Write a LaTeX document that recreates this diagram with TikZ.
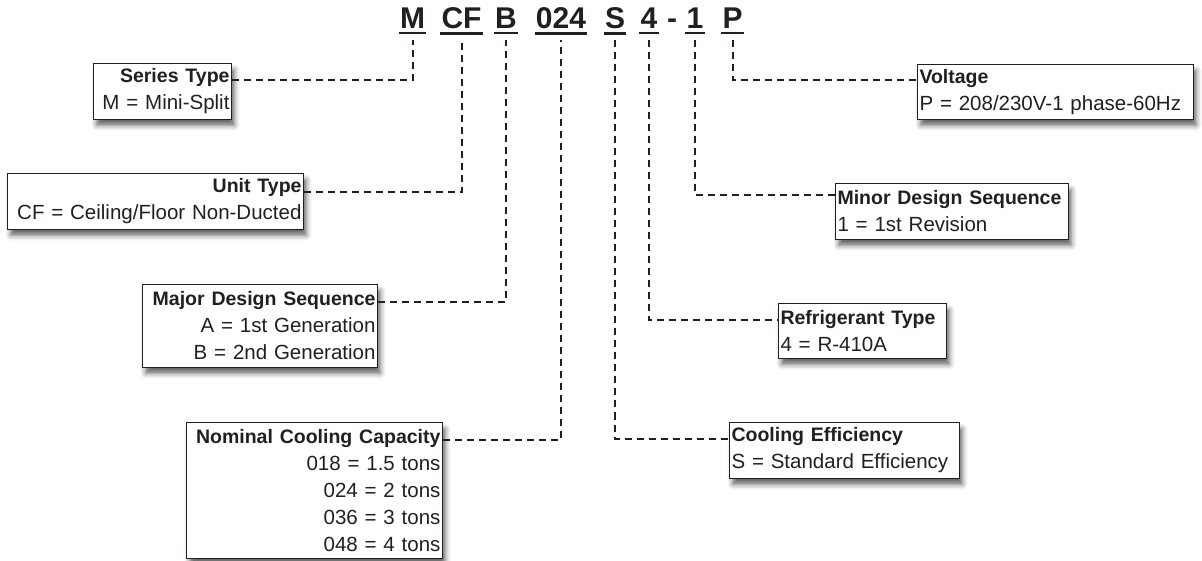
\documentclass[tikz,border=0pt]{standalone}
\usepackage{fontspec}
\setmainfont{Liberation Sans}
\usetikzlibrary{shadows.blur}
\definecolor{inkgray}{RGB}{35,31,32}

\tikzset{
	codechar/.style={font=\fontsize{30}{30}\selectfont\bfseries, text=inkgray, inner xsep=1pt, inner ysep=0pt, anchor=base},
	uline/.style={line width=2.5pt, inkgray},
	codeline/.style={line width=2pt, inkgray, dash pattern=on 7pt off 5pt},
	infobox/.style={draw=inkgray, line width=1pt, fill=white, text=inkgray, anchor=north west,
		inner xsep=2pt, inner ysep=2pt, font=\fontsize{20.5}{27}\selectfont,
		blur shadow={shadow xshift=3pt, shadow yshift=-6pt, shadow blur radius=5pt, shadow opacity=60}},
	leftbox/.style={infobox, align=right},
	rightbox/.style={infobox, align=left}
}
\newcommand{\boxhead}[1]{{\fontsize{19.5}{27}\selectfont\bfseries #1}}

\begin{document}
\begin{tikzpicture}[x=1pt, y=-1pt]
	\useasboundingbox (0,0) rectangle (1202,560);
	% model number
	\node[codechar] (cM) at (412.5,28) {M};
	\node[codechar] (cCF) at (461.5,28) {CF};
	\node[codechar] (cB) at (506,28) {B};
	\node[codechar] (cCap) at (561,28) {024};
	\node[codechar] (cS) at (615,28) {S};
	\node[codechar] (cRef) at (649,28) {4};
	\node[codechar] (cDash) at (672,28) {-};
	\node[codechar] (cRev) at (695,28) {1};
	\node[codechar] (cP) at (732.5,28) {P};
	\foreach \c in {cM,cCF,cB,cCap,cS,cRef,cRev,cP}
		\draw[uline] ([yshift=-5pt]\c.south west) -- ([yshift=-5pt]\c.south east);
	% left side
	\node[leftbox, text width=134pt, minimum height=56pt] (ser) at (93,63)
		{\boxhead{Series Type}\\M = Mini-Split};
	\node[leftbox, text width=292pt, minimum height=56pt] (unit) at (7,173)
		{\boxhead{Unit Type}\\CF = Ceiling/Floor Non-Ducted};
	\node[leftbox, text width=231pt, minimum height=83pt] (major) at (142,284)
		{\boxhead{Major Design Sequence}\\A = 1st Generation\\B = 2nd Generation};
	\node[leftbox, text width=252pt, minimum height=136pt] (nom) at (186,422)
		{\boxhead{Nominal Cooling Capacity}\\018 = 1.5 tons\\024 = 2 tons\\036 = 3 tons\\048 = 4 tons};
	% right side
	\node[rightbox, text width=272pt, minimum height=55pt] (volt) at (917,64)
		{\boxhead{Voltage}\\P = 208/230V-1 phase-60Hz};
	\node[rightbox, text width=229pt, minimum height=56pt] (minor) at (835,183)
		{\boxhead{Minor Design Sequence}\\1 = 1st Revision};
	\node[rightbox, text width=164pt, minimum height=55pt] (refr) at (778,303)
		{\boxhead{Refrigerant Type}\\4 = R-410A};
	\node[rightbox, text width=226pt, minimum height=56pt] (eff) at (729,422)
		{\boxhead{Cooling Efficiency}\\S = Standard Efficiency};
	% connectors
	\draw[codeline] ([yshift=-17pt]ser.north east) -| ([yshift=-12pt]cM.south);
	\draw[codeline] ([yshift=-19pt]unit.north east) -| ([yshift=-12pt]cCF.south);
	\draw[codeline] ([yshift=-18pt]major.north east) -| ([yshift=-12pt]cB.south);
	\draw[codeline] ([yshift=-18pt]nom.north east) -| ([yshift=-12pt]cCap.south);
	\draw[codeline] ([yshift=-12pt]cS.south) |- ([yshift=-17pt]eff.north west);
	\draw[codeline] ([yshift=-12pt]cRef.south) |- ([yshift=-17pt]refr.north west);
	\draw[codeline] ([yshift=-12pt]cRev.south) |- ([yshift=-12pt]minor.north west);
	\draw[codeline] ([yshift=-12pt]cP.south) |- ([yshift=-16pt]volt.north west);
\end{tikzpicture}
\end{document}
